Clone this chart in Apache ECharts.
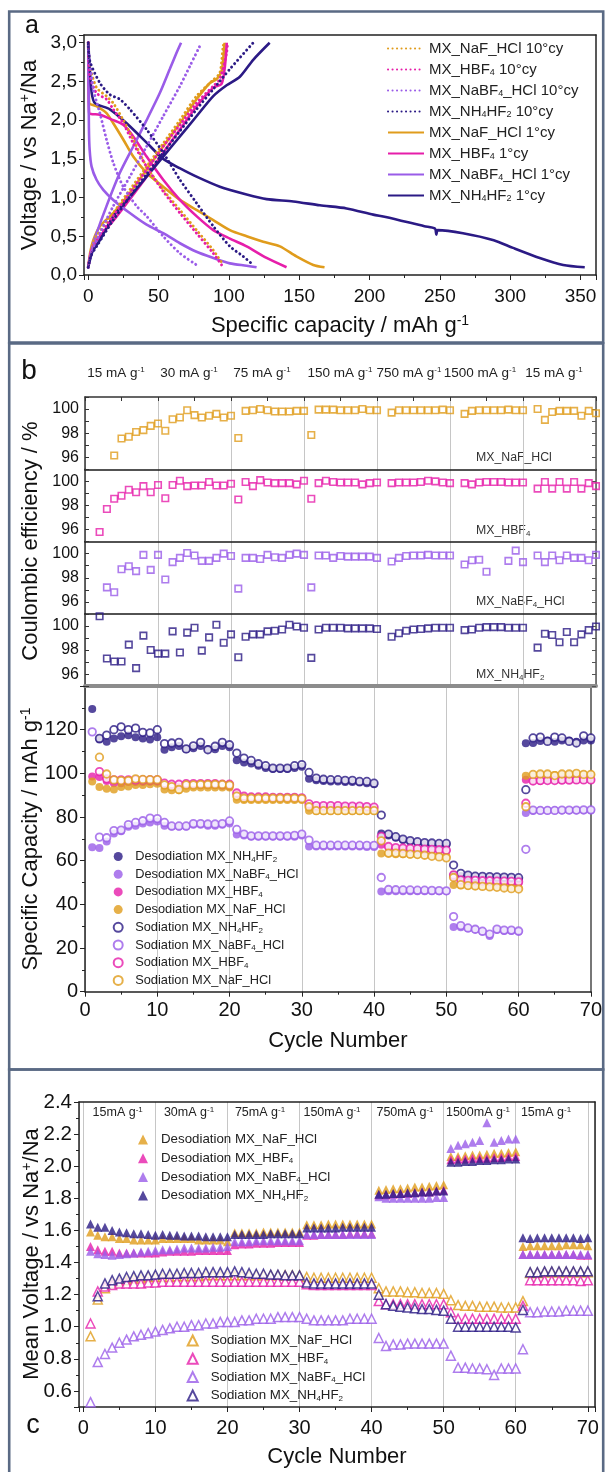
<!DOCTYPE html>
<html><head><meta charset="utf-8">
<script src="https://cdn.jsdelivr.net/npm/echarts@6/dist/echarts.min.js"></script>
<style>html,body{margin:0;padding:0;background:#fff}#c{width:605px;height:1472px}</style>
</head><body><div id="c"></div><script>
const FONT = 'Liberation Sans, Arial, Helvetica, sans-serif';
const C = {naf:'#E09C1C', hbf:'#E61EAA', nabf:'#9A5CE8', nh:'#2B1A85'};

// ---------- panel a : galvanostatic profiles [capacity, voltage] ----------
const naf1_dis = [[0,3.0],[0.3,2.6],[0.7,2.22],[5.9,2.18],[13,2.09],[17.8,1.96],[24.9,1.75],[32,1.53],[41.5,1.32],[53.3,1.14],[65.2,0.97],[77,0.84],[88.9,0.71],[100.7,0.58],[112.6,0.50],[124.4,0.43],[136.3,0.37],[148,0.24],[160,0.13],[168,0.10]];
const naf1_ch = [[0,0.10],[1.5,0.30],[3.6,0.45],[8.3,0.63],[17.8,0.80],[29.6,1.06],[41.5,1.36],[53.3,1.66],[65.2,1.96],[77,2.27],[86.5,2.48],[91.3,2.53],[94.8,2.63],[96.3,2.85],[97,3.0]];
const hbf1_dis = [[0,3.0],[0.3,2.4],[0.7,2.09],[8.3,2.07],[17.8,2.0],[24.9,1.94],[32,1.79],[41.5,1.53],[53.3,1.23],[65.2,0.97],[77,0.76],[88.9,0.58],[100.7,0.47],[112.6,0.37],[126.8,0.22],[141,0.10]];
const hbf1_ch = [[0,0.10],[2,0.30],[6,0.45],[17.8,0.70],[29.6,0.98],[41.5,1.27],[53.3,1.58],[65.2,1.88],[77,2.18],[88.9,2.42],[94.8,2.47],[97.2,2.70],[98.5,3.0]];
const nabf1_dis = [[0,3.0],[0.2,2.6],[0.5,1.9],[1,1.62],[2.4,1.40],[5.9,1.23],[10.7,1.10],[17.8,0.97],[29.6,0.80],[41.5,0.65],[53.3,0.54],[65.2,0.41],[77,0.30],[88.9,0.22],[100.7,0.15],[112.6,0.12],[119.7,0.10]];
const nabf1_ch = [[0,0.10],[2,0.30],[6,0.54],[13,0.89],[22.5,1.32],[32,1.66],[41.5,2.0],[50.9,2.35],[58,2.66],[62.8,2.87],[66,3.0]];
const nh1_dis = [[0,3.0],[1,2.7],[2.5,2.35],[4.8,2.22],[15.4,2.14],[27.3,1.96],[41.5,1.71],[53.3,1.50],[65,1.38],[77,1.27],[93.6,1.14],[112.6,1.04],[126.8,0.98],[145.8,0.95],[164.7,0.90],[183.7,0.86],[202.6,0.78],[211.5,0.75],[239,0.63],[246.5,0.60],[247.5,0.52],[248.5,0.58],[266.4,0.54],[288.3,0.45],[302,0.35],[321,0.22],[337.7,0.13],[353,0.10]];
const nh1_ch = [[0,0.10],[3,0.30],[8.3,0.45],[17.8,0.76],[29.6,1.01],[41.5,1.27],[53.3,1.53],[65.2,1.79],[77,2.05],[88.9,2.31],[98.4,2.45],[107.8,2.56],[117.3,2.78],[129,3.0]];
const naf10_dis = [[0,3.0],[1.2,2.70],[5.9,2.42],[13,2.31],[17.8,2.22],[24.9,2.0],[32,1.75],[41.5,1.40],[53.3,1.10],[65.2,0.84],[77,0.58],[88.9,0.32],[96,0.13]];
const naf10_ch = [[0,0.10],[2,0.30],[5.9,0.50],[17.8,0.80],[29.6,1.10],[41.5,1.40],[53.3,1.70],[65.2,2.0],[77,2.31],[88.9,2.52],[93.6,2.61],[96,2.96],[97.2,3.0]];
const hbf10_dis = [[0,3.0],[1.2,2.57],[5.9,2.35],[13,2.27],[17.8,2.14],[24.9,1.96],[32,1.70],[41.5,1.40],[53.3,1.08],[65.2,0.80],[77,0.54],[88.9,0.28],[94.8,0.13]];
const hbf10_ch = [[0,0.10],[2,0.30],[5.9,0.45],[17.8,0.76],[29.6,1.06],[41.5,1.36],[53.3,1.66],[65.2,1.94],[77,2.22],[88.9,2.44],[93.6,2.53],[98.4,2.87],[99,3.0]];
const nabf10_dis = [[0,2.95],[3.6,2.40],[8.3,2.09],[13,1.75],[17.8,1.45],[24.9,1.14],[34.4,0.89],[41.5,0.76],[53.3,0.50],[65.2,0.28],[77,0.13]];
const nabf10_ch = [[0,0.10],[2.5,0.30],[8.3,0.54],[17.8,0.89],[29.6,1.27],[41.5,1.66],[53.3,2.05],[65.2,2.44],[72.3,2.70],[79.4,2.96]];
const nh10_dis = [[0,3.0],[1.2,2.76],[8.3,2.48],[15.4,2.33],[22.5,2.27],[29.6,2.14],[41.5,1.88],[53.3,1.58],[65.2,1.23],[77,0.93],[88.9,0.63],[100.7,0.37],[110.2,0.24],[117.3,0.13]];
const nh10_ch = [[0,0.10],[2,0.25],[6,0.37],[17.8,0.71],[29.6,1.01],[41.5,1.30],[53.3,1.58],[65.2,1.86],[77,2.14],[88.9,2.40],[100.7,2.66],[117.3,3.0]];

// ---------- cycles ----------
const cycles = [1,2,3,4,5,6,7,8,9,10,11,12,13,14,15,16,17,18,19,20,21,22,23,24,25,26,27,28,29,30,31,32,33,34,35,36,37,38,39,40,41,42,43,44,45,46,47,48,49,50,51,52,53,54,55,56,57,58,59,60,61,62,63,64,65,66,67,68,69,70];

// ---------- panel b : coulombic efficiency (%) ----------
const ce_NaF_HCl = [null,null,null,96.15,97.55,97.7,98.1,98.25,98.6,98.8,
 98.2,99.15,99.3,99.9,99.5,99.3,99.45,99.6,99.3,99.45,
 97.6,99.85,99.9,100.0,99.9,99.8,99.8,99.8,99.85,99.85,
 97.85,99.95,99.95,99.95,99.9,99.9,99.9,100.0,99.9,99.9,
 null,99.7,99.9,99.9,99.9,99.9,99.9,99.9,99.95,99.9,
 null,99.6,99.85,99.9,99.9,99.9,99.9,99.95,99.9,99.9,
 null,100.0,99.1,99.75,99.85,99.85,99.85,99.45,99.85,99.65];
const ce_HBF4 = [null,95.8,97.7,98.55,98.8,99.3,99.1,99.6,99.1,99.7,
 98.6,99.7,100.05,99.6,99.65,99.65,99.95,99.65,99.65,99.8,
 98.5,99.95,99.6,100.1,99.9,99.85,99.85,99.85,99.75,100.05,
 98.55,99.85,100.05,99.95,99.9,99.9,99.9,99.75,99.85,99.9,
 null,99.85,99.9,99.9,99.9,99.95,100.05,100.0,99.9,99.85,
 null,99.85,99.75,99.9,99.95,99.95,99.95,99.9,99.9,99.9,
 null,99.4,99.95,99.4,99.95,99.4,99.95,99.4,99.85,99.6];
const ce_NaBF4_HCl = [null,null,97.2,96.8,98.7,98.95,98.55,99.9,98.65,99.9,
 97.85,99.3,99.65,100.05,99.85,99.4,99.4,99.65,100.0,99.8,
 97.1,99.65,99.65,99.55,99.9,99.7,99.65,99.9,100.0,99.9,
 97.2,99.85,99.85,99.65,99.8,99.75,99.75,99.75,99.75,99.65,
 null,99.35,99.65,99.8,99.85,99.85,99.9,99.85,99.85,99.85,
 null,99.1,99.45,99.5,98.5,null,null,99.4,100.25,99.3,
 null,99.85,99.3,99.85,99.45,99.85,99.65,99.65,99.45,99.9];
const ce_NH4HF2 = [null,100.8,97.3,97.05,97.05,98.45,96.5,99.2,98.0,97.7,
 97.7,99.55,97.8,99.45,99.85,97.95,99.05,100.1,98.6,99.3,
 97.4,99.1,99.3,99.3,99.55,99.6,99.7,100.1,99.95,99.85,
 97.35,99.7,99.85,99.85,99.85,99.8,99.8,99.8,99.8,99.75,
 null,99.1,99.4,99.6,99.7,99.75,99.8,99.85,99.85,99.85,
 null,99.65,99.7,99.85,99.9,99.9,99.9,99.85,99.85,99.85,
 null,98.2,99.35,99.25,98.65,99.5,98.65,99.3,99.65,99.95];

// ---------- panel b : specific capacity (mAh/g) ----------
const cap_des_NH4HF2 = [129.5,115.5,114.5,116,117,117.5,116.5,116,115.5,116.5,
 110.8,112,112.5,111,111.5,112.5,111,111,112.5,112,
 106,105,104.5,103.5,102.5,102,102,102,102.5,103,
 97.5,96.8,96.5,96.3,96.3,96,96,95.8,95.5,95,
 72.5,71.5,70.5,69.5,68.8,68.3,67.8,67.5,67.3,67.2,
 53.5,53,52.8,52.5,52.3,52.2,52,52,51.8,51.5,
 113.8,113.9,114.8,115,114.5,115,115,114.5,115,115];
const cap_des_NaBF4_HCl = [66.2,65.8,68.8,72.5,73.5,75.5,76,77,77.5,78,
 76,75.5,75.5,75.5,76.5,76.5,76,76,76.5,77,
 72,71.5,71,71,71,71,71,71,71,71.5,
 66.5,66.5,66.5,66.5,66.5,66.5,66.5,66.5,66.3,66.3,
 45.9,46,46,46,46,46,46,46,46,46,
 29.6,29.5,29,28.5,27.5,25.5,28.3,27.8,27.8,27.5,
 81.8,82.8,83,83,83,83,83,83,83,83];
const cap_des_HBF4 = [98.6,98.3,96.5,95.5,95.5,96,96,96,96.2,96.2,
 94.5,94,94,94.5,94.5,94.5,94.5,94.5,94.3,94,
 90.5,89,89,89,89,88.8,88.8,88.8,88.8,88.6,
 85,84.5,84.5,84.5,84.5,84.5,84.5,84.3,84.3,84,
 67.3,66,65.8,65.6,65.4,65.3,65.2,65,64.8,64.5,
 52.7,50.5,50.3,50.3,50.2,50.2,50.1,50,50,49.8,
 97.1,96.5,96.5,96.8,96.8,96.8,97,97,97,97];
const cap_des_NaF_HCl = [96.3,93.7,93,92.6,93.7,94,94.7,94.7,95,95.2,
 92.6,92.3,92.3,93,93.5,93.5,93.5,93.5,93.5,93.5,
 87.9,87.8,87.8,87.8,87.8,87.8,87.8,87.8,87.8,87.8,
 82.9,82.8,82.8,82.8,82.8,82.8,82.8,82.8,82.8,82.8,
 63.3,63.2,63,63,62.8,62.8,62.6,62.5,62.3,62,
 48.9,48.6,48.5,48.4,48.3,48.2,48.1,48,47.8,47.6,
 98.9,99.2,99.2,99.2,99.2,99.2,99.3,99.3,99.3,99.3];
const cap_sod_NH4HF2 = [null,116,117.5,120,121.3,120,120.7,118.8,118.5,120,
 113.6,113.9,114.2,111.2,112.6,114.2,110.8,112.4,114.2,113.1,
 109.3,107,105.9,104.4,103.5,102.4,102.4,102.4,103.5,104,
 100.4,97.8,97.3,97.1,97.1,96.8,96.8,96.3,96.3,95.5,
 80.9,72.2,71,69.9,69.2,68.7,68.3,68.1,67.9,67.9,
 58,54.2,53.4,52.9,52.8,52.7,52.6,52.5,52.4,52.2,
 92.5,116.2,116.6,114.6,116.6,116.2,114.6,113.9,117.2,116.2];
const cap_sod_NaBF4_HCl = [119,70.8,70.5,73.8,74,76.5,77.5,78.3,79.5,79.3,
 77.5,75.9,75.9,75.9,77,77,76.8,76.8,77,78.2,
 74.3,72.2,71.4,71.4,71.4,71.4,71.4,71.4,71.6,72.2,
 69.4,67.1,67.1,67.1,67.1,67.1,67.1,67.1,67,67,
 52.3,46.8,46.7,46.6,46.6,46.5,46.5,46.4,46.3,46.2,
 34.4,30.3,29.2,28.6,27.7,26.4,28.7,28.2,28.2,27.8,
 65.2,83.2,83,83,83,83.2,83.2,83.2,83.3,83.3];
const cap_sod_HBF4 = [null,100.8,97.5,97,97,97,97,97,97,97,
 95.5,95,95,95.3,95.3,95.3,95.3,95.3,95,95,
 91,89.5,89.2,89.2,89.2,89,89,89,89,88.8,
 86,85.2,85.2,85.2,85.2,85,85,85,84.8,84.5,
 71.1,66.5,66,65.8,65.6,65.5,65.3,65.2,65,64.8,
 53.5,51.2,51,51,50.8,50.8,50.6,50.6,50.5,50.3,
 86.3,96.5,96.7,96.7,96.7,96.9,96.9,97,97,97];
const cap_sod_NaF_HCl = [null,107.4,99.7,97,96.7,96.7,97.5,97.2,97.1,97.1,
 94.7,93.9,92.6,94.7,94.7,94.9,94.9,94.9,94.9,94.6,
 89.6,88.6,88.6,88.6,88.6,88.6,88.6,88.6,88.6,88.4,
 84.7,82.9,82.9,82.9,82.9,82.9,82.9,82.9,82.9,82.9,
 69.1,63.5,63.5,63.3,63,62.8,62.5,62,61.7,61.3,
 52.3,49,48.6,48.4,48.2,48,47.8,47.5,47.2,47,
 84.7,99.5,99.7,99.7,99,99.7,99.7,100,99.5,99.5];

// ---------- panel c : mean voltage (V) ----------
const mv_des_NaF_HCl = [1.59,1.57,1.56,1.56,1.55,1.55,1.54,1.54,1.54,1.54,
 1.55,1.55,1.55,1.55,1.55,1.54,1.54,1.54,1.54,1.53,
 1.585,1.585,1.585,1.585,1.59,1.59,1.59,1.59,1.59,1.59,
 1.635,1.635,1.635,1.64,1.64,1.64,1.64,1.64,1.64,1.64,
 1.85,1.855,1.86,1.86,1.865,1.87,1.87,1.875,1.88,1.885,
 2.06,2.06,2.065,2.07,2.07,2.075,2.08,2.08,2.085,2.09,
 1.50,1.505,1.505,1.505,1.505,1.505,1.51,1.51,1.51,1.505];
const mv_des_HBF4 = [1.50,1.48,1.47,1.47,1.46,1.46,1.46,1.46,1.46,1.46,
 1.465,1.47,1.47,1.47,1.47,1.475,1.475,1.475,1.475,1.475,
 1.51,1.515,1.515,1.52,1.52,1.52,1.525,1.525,1.525,1.525,
 1.57,1.57,1.575,1.575,1.575,1.575,1.58,1.58,1.58,1.58,
 1.82,1.82,1.825,1.83,1.83,1.835,1.84,1.84,1.845,1.85,
 2.04,2.045,2.045,2.05,2.05,2.05,2.055,2.055,2.06,2.06,
 1.45,1.45,1.45,1.45,1.45,1.45,1.45,1.45,1.445,1.445];
const mv_des_NaBF4_HCl = [1.47,1.455,1.45,1.445,1.45,1.455,1.46,1.465,1.47,1.475,
 1.48,1.48,1.485,1.49,1.49,1.49,1.49,1.495,1.495,1.5,
 1.53,1.53,1.53,1.535,1.535,1.535,1.535,1.535,1.535,1.535,
 1.575,1.575,1.575,1.575,1.575,1.575,1.575,1.575,1.575,1.575,
 1.81,1.80,1.80,1.80,1.80,1.80,1.80,1.80,1.805,1.805,
 2.11,2.13,2.14,2.15,2.16,2.27,2.15,2.16,2.17,2.17,
 1.45,1.45,1.45,1.45,1.45,1.45,1.45,1.45,1.45,1.45];
const mv_des_NH4HF2 = [1.64,1.62,1.62,1.60,1.59,1.585,1.58,1.58,1.575,1.57,
 1.575,1.57,1.57,1.565,1.565,1.565,1.56,1.56,1.56,1.56,
 1.575,1.575,1.575,1.575,1.575,1.58,1.58,1.58,1.58,1.58,
 1.615,1.615,1.615,1.615,1.615,1.62,1.62,1.62,1.62,1.62,
 1.825,1.825,1.83,1.83,1.835,1.835,1.84,1.84,1.845,1.845,
 2.025,2.025,2.03,2.03,2.035,2.035,2.04,2.04,2.045,2.045,
 1.555,1.55,1.555,1.555,1.555,1.555,1.555,1.555,1.55,1.555];
const mv_sod_NaF_HCl = [0.94,1.17,1.24,1.27,1.28,1.29,1.30,1.30,1.31,1.31,
 1.31,1.31,1.315,1.315,1.315,1.315,1.32,1.32,1.32,1.32,
 1.32,1.32,1.32,1.32,1.32,1.32,1.32,1.32,1.32,1.32,
 1.31,1.305,1.305,1.305,1.305,1.305,1.305,1.305,1.305,1.305,
 1.24,1.22,1.22,1.22,1.215,1.215,1.21,1.21,1.21,1.205,
 1.165,1.135,1.13,1.13,1.125,1.125,1.125,1.12,1.12,1.12,
 1.16,1.335,1.335,1.34,1.34,1.34,1.34,1.34,1.34,1.34];
const mv_sod_HBF4 = [1.02,1.22,1.25,1.26,1.27,1.27,1.27,1.27,1.275,1.275,
 1.28,1.28,1.28,1.28,1.28,1.28,1.28,1.28,1.28,1.28,
 1.28,1.28,1.28,1.28,1.28,1.28,1.28,1.28,1.28,1.28,
 1.265,1.26,1.26,1.26,1.26,1.26,1.26,1.26,1.26,1.26,
 1.16,1.14,1.14,1.14,1.14,1.14,1.14,1.14,1.14,1.14,
 1.09,1.05,1.05,1.05,1.05,1.05,1.05,1.05,1.05,1.05,
 1.13,1.29,1.29,1.29,1.29,1.29,1.29,1.29,1.285,1.29];
const mv_sod_NaBF4_HCl = [0.53,0.78,0.83,0.87,0.90,0.92,0.94,0.95,0.96,0.97,
 0.98,0.99,1.0,1.0,1.01,1.01,1.02,1.02,1.03,1.03,
 1.03,1.04,1.04,1.05,1.05,1.05,1.06,1.06,1.06,1.06,
 1.05,1.04,1.04,1.04,1.04,1.04,1.05,1.05,1.05,1.05,
 0.93,0.88,0.89,0.89,0.895,0.895,0.895,0.895,0.895,0.895,
 0.82,0.745,0.745,0.74,0.74,0.735,0.70,0.74,0.74,0.74,
 0.86,1.09,1.09,1.095,1.095,1.095,1.1,1.1,1.1,1.1];
const mv_sod_NH4HF2 = [null,1.19,1.27,1.29,1.30,1.31,1.315,1.32,1.32,1.325,
 1.33,1.33,1.33,1.335,1.335,1.335,1.34,1.34,1.34,1.34,
 1.345,1.34,1.335,1.33,1.33,1.325,1.325,1.32,1.32,1.32,
 1.275,1.27,1.27,1.27,1.27,1.27,1.27,1.27,1.27,1.27,
 1.20,1.14,1.13,1.125,1.12,1.115,1.11,1.11,1.105,1.10,
 1.05,1.0,1.0,1.0,1.0,1.0,1.0,1.0,1.0,0.995,
 1.105,1.34,1.34,1.345,1.345,1.345,1.345,1.345,1.345,1.345];

// ---------- text labels ----------
const rateLabelsB = ['15 mA g{p|-1}','30 mA g{p|-1}','75 mA g{p|-1}','150 mA g{p|-1}','750 mA g{p|-1}','1500 mA g{p|-1}','15 mA g{p|-1}'];
const rateLabelsC = ['15mA g{p|-1}','30mA g{p|-1}','75mA g{p|-1}','150mA g{p|-1}','750mA g{p|-1}','1500mA g{p|-1}','15mA g{p|-1}'];
const ceLabels = ['MX_NaF_HCl','MX_HBF{s|4}','MX_NaBF{s|4}_HCl','MX_NH{s|4}HF{s|2}'];
const yTitles = ['Voltage / vs Na{p|+}/Na','Coulombic efficiency / %','Specific Capacity / mAh g{p|-1}','Mean Voltage / vs Na{p|+}/Na'];

// ================= build =================
const fmt = n => n.trim().replace(/(BF|NH|HF)(\d)/g, '$1{s|$2}');
function rich(fs){ return {
  s:{fontSize:Math.round(fs*0.62), padding:[Math.round(fs*0.45),0,0,0], fontFamily:FONT, color:'#222'},
  p:{fontSize:Math.round(fs*0.62), padding:[0,0,Math.round(fs*0.45),0], fontFamily:FONT, color:'#111'} }; }
function pts(arr){ const o=[]; for(let i=0;i<cycles.length;i++){ if(arr[i]!=null) o.push([cycles[i],arr[i]]); } return o; }
const AX = '#222';
function lineOnly(gi, pos){ return {gridIndex:gi, type:'value', position:pos, min:0, max:1, axisLine:{show:true,onZero:false,lineStyle:{color:AX,width:1.5}}, axisTick:{show:false}, axisLabel:{show:false}, splitLine:{show:false}}; }

const ceTop = [397, 469.3, 541.6, 613.9], ceH = 72.3;
const grids = [
  {left:84, top:35, width:512, height:240},
  ...ceTop.map(t => ({left:85, top:t, width:511, height:ceH})),
  {left:85, top:686, width:511, height:305.7},
  {left:79, top:1102, width:516, height:305}
];
const TITLE = 22;

const xAxes = [], yAxes = [];
// panel a
xAxes.push({gridIndex:0, type:'value', min:-3, max:361, minInterval:50, maxInterval:50,
  axisLine:{show:true,onZero:false,lineStyle:{color:AX,width:1.5}},
  axisTick:{show:true,length:5,lineStyle:{color:AX}}, minorTick:{show:true,splitNumber:2,length:3,lineStyle:{color:AX}},
  axisLabel:{fontSize:19,color:'#111',fontFamily:FONT,margin:12, formatter:v=> (v>=0 && v%50===0)? String(v):''},
  splitLine:{show:false},
  name:'Specific capacity / mAh g{p|-1}', nameLocation:'middle', nameGap:39,
  nameTextStyle:{fontSize:TITLE,color:'#111',fontFamily:FONT,rich:rich(TITLE)}});
xAxes.push(lineOnly(0,'top'));
yAxes.push({gridIndex:0, type:'value', min:0, max:3.1, interval:0.5,
  axisLine:{show:true,onZero:false,lineStyle:{color:AX,width:1.5}},
  axisTick:{show:true,length:5,lineStyle:{color:AX}}, minorTick:{show:true,splitNumber:2,length:3,lineStyle:{color:AX}},
  axisLabel:{fontSize:19,color:'#111',fontFamily:FONT,margin:7, formatter:v=> v<=3.0001 ? v.toFixed(1).replace('.',',') : ''},
  splitLine:{show:false}});
yAxes.push(lineOnly(0,'right'));
// CE panels
ceTop.forEach((t,i)=>{
  const g = i+1;
  xAxes.push({gridIndex:g, type:'value', min:0, max:70, interval:10,
    axisLine:{show:true,onZero:false,lineStyle: i<3 ? {color:'#1a1a1a',width:1.6} : {color:'#8c8c8c',width:4}},
    axisTick:{show:false}, axisLabel:{show:false},
    splitLine:{show:true,lineStyle:{color:'#c6c6c6',width:1}}});
  yAxes.push({gridIndex:g, type:'value', min:95, max:101, interval:1,
    axisLine:{show:true,onZero:false,lineStyle:{color:'#333',width:1.5}},
    axisTick:{show:true,inside:true,length:4,lineStyle:{color:'#333'}},
    axisLabel:{fontSize:16,color:'#111',fontFamily:FONT,margin:6, formatter:v=> (v%2===0 && v>=96 && v<=100)? String(v):''},
    splitLine:{show:false}});
  yAxes.push({gridIndex:g, type:'value', position:'right', min:95, max:101, interval:1,
    axisLine:{show:true,onZero:false,lineStyle:{color:'#555',width:1.5}},
    axisTick:{show:true,inside:true,length:4,lineStyle:{color:'#555'}},
    axisLabel:{show:false}, splitLine:{show:false}});
});
// CE top axis ticks
xAxes.push({gridIndex:1, type:'value', position:'top', min:0, max:70, interval:5,
  axisLine:{show:true,onZero:false,lineStyle:{color:'#333',width:1.5}},
  axisTick:{show:true,inside:true,length:4,lineStyle:{color:'#333'}}, axisLabel:{show:false}, splitLine:{show:false}});
// capacity
xAxes.push({gridIndex:5, type:'value', min:0, max:70, interval:10,
  axisLine:{show:true,onZero:false,lineStyle:{color:AX,width:1.5}},
  axisTick:{show:true,length:5,lineStyle:{color:AX}}, minorTick:{show:true,splitNumber:2,length:3,lineStyle:{color:AX}},
  axisLabel:{fontSize:20,color:'#111',fontFamily:FONT,margin:9},
  splitLine:{show:true,lineStyle:{color:'#c6c6c6',width:1}},
  name:'Cycle Number', nameLocation:'middle', nameGap:38,
  nameTextStyle:{fontSize:TITLE,color:'#111',fontFamily:FONT}});
yAxes.push({gridIndex:5, type:'value', min:0, max:140, interval:20,
  axisLine:{show:true,onZero:false,lineStyle:{color:AX,width:1.5}},
  axisTick:{show:true,length:5,lineStyle:{color:AX}}, minorTick:{show:true,splitNumber:2,length:3,lineStyle:{color:AX}},
  axisLabel:{fontSize:20,color:'#111',fontFamily:FONT,margin:7, formatter:v=> v<=120 ? String(v) : ''},
  splitLine:{show:false}});
yAxes.push(Object.assign(lineOnly(5,'right'),{axisLine:{show:true,onZero:false,lineStyle:{color:'#777',width:2}}}));
// panel c
xAxes.push({gridIndex:6, type:'value', min:-0.6, max:71, minInterval:10, maxInterval:10,
  axisLine:{show:true,onZero:false,lineStyle:{color:AX,width:1.5}},
  axisTick:{show:true,length:5,lineStyle:{color:AX}}, minorTick:{show:true,splitNumber:2,length:3,lineStyle:{color:AX}},
  axisLabel:{fontSize:20,color:'#111',fontFamily:FONT,margin:11, formatter:v=> (v>=0 && v%10===0)? String(v):''},
  splitLine:{show:true,lineStyle:{color:'#c6c6c6',width:1}},
  name:'Cycle Number', nameLocation:'middle', nameGap:39,
  nameTextStyle:{fontSize:TITLE,color:'#111',fontFamily:FONT}});
xAxes.push(lineOnly(6,'top'));
yAxes.push({gridIndex:6, type:'value', min:0.5, max:2.4, minInterval:0.2, maxInterval:0.2,
  axisLine:{show:true,onZero:false,lineStyle:{color:AX,width:1.5}},
  axisTick:{show:true,length:5,lineStyle:{color:AX}}, minorTick:{show:true,splitNumber:2,length:3,lineStyle:{color:AX}},
  axisLabel:{fontSize:20.5,color:'#111',fontFamily:FONT,margin:7, formatter:v=> (Math.abs(v*5-Math.round(v*5))<1e-6)? v.toFixed(1):''},
  splitLine:{show:false}});
yAxes.push(lineOnly(6,'right'));

const XI = {a:0, ce:[2,3,4,5], cap:7, c:8};
const YI = {a:0, ce:[2,4,6,8], cap:10, c:12};

const series = [];
const curves = [
  {name:'MX_NaF_HCl 10°cy', color:C.naf, dot:true, br:[naf10_dis, naf10_ch]},
  {name:'MX_HBF4 10°cy', color:C.hbf, dot:true, br:[hbf10_dis, hbf10_ch]},
  {name:'MX_NaBF4_HCl 10°cy', color:C.nabf, dot:true, br:[nabf10_dis, nabf10_ch]},
  {name:'MX_NH4HF2 10°cy', color:C.nh, dot:true, br:[nh10_dis, nh10_ch]},
  {name:'MX_NaF_HCl 1°cy', color:C.naf, dot:false, br:[naf1_dis, naf1_ch]},
  {name:'MX_HBF4 1°cy', color:C.hbf, dot:false, br:[hbf1_dis, hbf1_ch]},
  {name:'MX_NaBF4_HCl 1°cy', color:C.nabf, dot:false, br:[nabf1_dis, nabf1_ch]},
  {name:'MX_NH4HF2 1°cy', color:C.nh, dot:false, br:[nh1_dis, nh1_ch]}
];
curves.forEach(cv => cv.br.forEach(b => series.push({type:'line', name:cv.name, xAxisIndex:XI.a, yAxisIndex:YI.a, data:b,
  showSymbol:false, symbol:'none', smooth:0.25, clip:true,
  lineStyle:{color:cv.color, width: cv.dot ? 2.9 : 2.6, type: cv.dot ? [0.1,4.4] : 'solid', cap: cv.dot ? 'round' : 'butt'},
  itemStyle:{color:cv.color}, z: cv.dot?3:2})));

[[ce_NaF_HCl,C.naf],[ce_HBF4,C.hbf],[ce_NaBF4_HCl,C.nabf],[ce_NH4HF2,C.nh]].forEach((s,i)=>{
  series.push({type:'scatter', name:'CE'+i, xAxisIndex:XI.ce[i], yAxisIndex:YI.ce[i], data:pts(s[0]),
    symbol:'rect', symbolSize:6.5, itemStyle:{color:'rgba(255,255,255,0)', borderColor:s[1], borderWidth:1.6}});
});

const capSets = [
  ['Desodiation MX_NH4HF2', cap_des_NH4HF2, C.nh, true],
  ['Desodiation MX_NaBF4_HCl', cap_des_NaBF4_HCl, C.nabf, true],
  ['Desodiation MX_HBF4', cap_des_HBF4, C.hbf, true],
  ['Desodiation MX_NaF_HCl', cap_des_NaF_HCl, C.naf, true],
  ['Sodiation MX_NH4HF2', cap_sod_NH4HF2, C.nh, false],
  ['Sodiation MX_NaBF4_HCl', cap_sod_NaBF4_HCl, C.nabf, false],
  ['Sodiation MX_HBF4', cap_sod_HBF4, C.hbf, false],
  ['Sodiation MX_NaF_HCl', cap_sod_NaF_HCl, C.naf, false]
];
capSets.forEach(s => series.push({type:'scatter', name:s[0], xAxisIndex:XI.cap, yAxisIndex:YI.cap, data:pts(s[1]),
  symbol:'circle', symbolSize: s[3]?8:7.5,
  itemStyle: s[3] ? {color:s[2]} : {color:'#fff', borderColor:s[2], borderWidth:1.8}}));

const mvSets = [
  ['Desodiation MX_NaF_HCl ', mv_des_NaF_HCl, C.naf, true],
  ['Desodiation MX_HBF4 ', mv_des_HBF4, C.hbf, true],
  ['Desodiation MX_NaBF4_HCl ', mv_des_NaBF4_HCl, C.nabf, true],
  ['Desodiation MX_NH4HF2 ', mv_des_NH4HF2, C.nh, true],
  ['Sodiation MX_NaF_HCl ', mv_sod_NaF_HCl, C.naf, false],
  ['Sodiation MX_HBF4 ', mv_sod_HBF4, C.hbf, false],
  ['Sodiation MX_NaBF4_HCl ', mv_sod_NaBF4_HCl, C.nabf, false],
  ['Sodiation MX_NH4HF2 ', mv_sod_NH4HF2, C.nh, false]
];
mvSets.forEach(s => series.push({type:'scatter', name:s[0], xAxisIndex:XI.c, yAxisIndex:YI.c, data:pts(s[1]),
  symbol:'triangle', symbolSize: 9,
  itemStyle: s[3] ? {color:s[2]} : {color:'#fff', borderColor:s[2], borderWidth:1.5}}));

function legendCfg(names, left, top, iw, ih, gap, fs, lh, padL){
  return {data:names, left:left, top:top, orient:'vertical', padding:0, itemWidth:iw, itemHeight:ih, itemGap:gap,
    selectedMode:false, formatter:fmt, symbolKeepAspect:true,
    textStyle:{fontSize:fs, fontFamily:FONT, color:'#222', lineHeight:lh, padding:[0,0,0,padL||0], rich:rich(fs)}};
}
const legA = legendCfg(curves.map(c=>c.name), 387, 39, 36, 12, 2, 15, 19, 0);
legA.itemStyle = {color:'rgba(0,0,0,0)', borderWidth:0, opacity:0};
const legends = [
  legA,
  legendCfg(capSets.map(s=>s[0]), 112.7, 848.5, 24, 9, 1.7, 12.8, 16, 0),
  legendCfg(mvSets.slice(0,4).map(s=>s[0]), 138, 1131, 10, 10, 1.7, 13.3, 17, 8),
  legendCfg(mvSets.slice(4).map(s=>s[0]), 186.7, 1332, 10, 10, 1.3, 13.3, 17, 8)
];

const G = [];
const frame = '#5a6a84';
[[11.5,331],[343.5,726],[1069.5,420]].forEach(f => G.push({type:'rect', z:-10, shape:{x:9.2, y:f[0], width:594, height:f[1]}, style:{fill:'none', stroke:frame, lineWidth:2.6}}));
G.push({type:'text', x:32, y:26, style:{text:'a', fontSize:25, fontFamily:FONT, fill:'#111', align:'center', verticalAlign:'middle'}});
G.push({type:'text', x:29, y:371, style:{text:'b', fontSize:28, fontFamily:FONT, fill:'#111', align:'center', verticalAlign:'middle'}});
G.push({type:'text', x:33, y:1426, style:{text:'c', fontSize:27, fontFamily:FONT, fill:'#111', align:'center', verticalAlign:'middle'}});
const rbX = [116,189,262,340,409,480,554];
rateLabelsB.forEach((t,i)=> G.push({type:'text', x:rbX[i], y:373, style:{text:t, fontSize:13.5, fontFamily:FONT, fill:'#222', align:'center', verticalAlign:'middle', rich:rich(13.5)}}));
const rcX = [117.7,189,260,332,405,478,546];
rateLabelsC.forEach((t,i)=> G.push({type:'text', x:rcX[i], y:1113, style:{text:t, fontSize:12.5, fontFamily:FONT, fill:'#222', align:'center', verticalAlign:'middle', rich:rich(12.5)}}));
const ceLY = [457.7, 531, 601.7, 675];
ceLabels.forEach((t,i)=> G.push({type:'text', x:476, y:ceLY[i], style:{text:t, fontSize:12.3, fontFamily:FONT, fill:'#333', align:'left', verticalAlign:'middle', rich:rich(12.3)}}));
// rotated y-axis titles
const yTitlePos = [[30,155],[31,541],[31,839],[32,1254]];
yTitles.forEach((t,i)=> G.push({type:'text', x:yTitlePos[i][0], y:yTitlePos[i][1], rotation:Math.PI/2,
  style:{text:t, fontSize:TITLE, fontFamily:FONT, fill:'#111', align:'center', verticalAlign:'middle', rich:rich(TITLE)}}));

const chart = echarts.init(document.getElementById('c'), null, {renderer:'canvas'});
chart.setOption({animation:false, backgroundColor:'#fff', grid:grids, xAxis:xAxes, yAxis:yAxes, series:series, legend:legends, graphic:G});
</script></body></html>
